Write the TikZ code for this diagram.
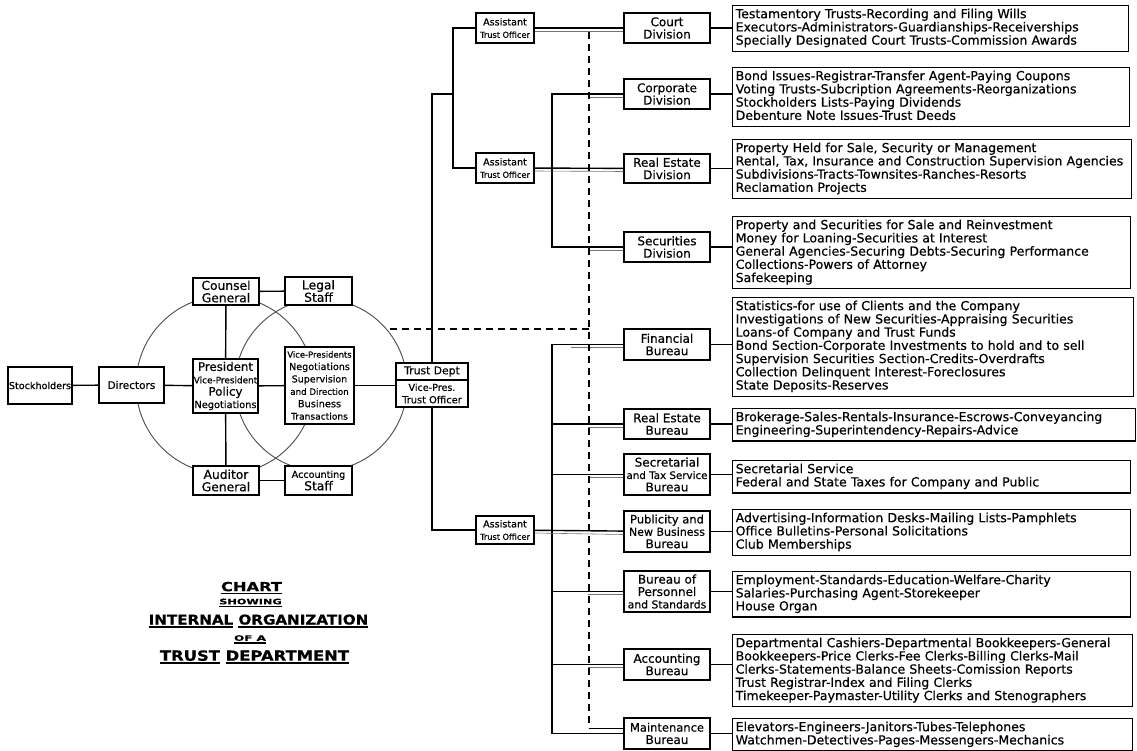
\documentclass[tikz,border=0pt]{standalone}
\usepackage{fontspec}
\setmainfont{DejaVu Sans}[FakeBold=0.5]
\newcommand\fs[1]{\fontsize{#1}{12.4}\selectfont}
\newcommand\ulw[1]{\setbox0=\hbox{#1}\rlap{\copy0}\rule[-3pt]{\wd0}{1.5pt}}
\newcommand\tl[1]{\begin{tabular}{@{}l@{}}#1\end{tabular}}
\begin{document}
\begin{tikzpicture}[x=1pt,y=-1pt,
  box/.style={draw, line width=1.5pt, fill=white, inner sep=1pt, align=center, font=\fs{12}},
  tbox/.style={draw, line width=1.4pt, fill=white, inner sep=3pt, align=left, anchor=north west, font=\fs{12.5}},
  conn/.style={line width=1.4pt},
  ghost/.style={line width=0.6pt, black!55},
  ring/.style={line width=0.9pt, black!70},
  dashln/.style={line width=1.2pt, dash pattern=on 7pt off 5pt},
  ttl/.style={inner sep=0pt, font=\bfseries}]
\useasboundingbox (0,0) rectangle (1137,751);
\fill[white] (0,0) rectangle (1137,751);

% circles
\draw[ring] (225,385) circle[radius=89pt];
\draw[ring] (321,385) circle[radius=86pt];

% left group
\node[box, minimum width=64pt, minimum height=37pt, font=\fs{9.6}] (stock) at (40,385.5) {Stockholders};
\node[box, minimum width=65pt, minimum height=36pt, font=\fs{10.5}] (dir) at (131.5,385) {Directors};
\node[box, minimum width=66pt, minimum height=27pt, font=\fs{12.3}] (counsel) at (226,291.5) {Counsel\\General};
\node[box, minimum width=67pt, minimum height=28pt, font=\fs{12.3}] (legal) at (318.5,291) {Legal\\Staff};
\node[box, minimum width=65pt, minimum height=54pt] (pres) at (225.5,386)
  {\fs{11.8}President\\\fs{8.9}Vice-President\\\fs{11.8}Policy\\\fs{9.8}Negotiations};
\node[box, minimum width=69pt, minimum height=77pt] (vp) at (319.5,385.5)
  {\fs{8.4}Vice-Presidents\\\fs{9.6}Negotiations\\\fs{9.5}Supervision\\\fs{8.7}and Direction\\\fs{9.8}Business\\\fs{9.1}Transactions};
\node[box, minimum width=66pt, minimum height=29pt, font=\fs{12.3}] (auditor) at (226,480.5) {Auditor\\General};
\node[box, minimum width=67pt, minimum height=29pt, font=\fs{12.3}] (accstaff) at (318.5,480.5) {\fs{9.6}Accounting\\Staff};

% trust department
\node[box, minimum width=72pt, minimum height=44pt] (trust) at (432,385) {};
\coordinate (tdiv) at (432,380);
\draw[line width=1.3pt] (trust.west |- tdiv) -- (trust.east |- tdiv);
\node[inner sep=0pt, font=\fs{10.8}] (tdA) at (432,371.5) {Trust Dept};
\node[inner sep=0pt, align=center, font=\fs{9.6}] (tdB) at (432,393.5) {Vice-Pres.\\\fs{9.8}Trust Officer};

% assistant trust officers
\node[box, minimum width=58pt, minimum height=30pt, font=\fs{9.6}] (ato1) at (505,28) {Assistant\\\fs{8.2}Trust Officer};
\node[box, minimum width=58pt, minimum height=30pt, font=\fs{9.6}] (ato2) at (505,168) {Assistant\\\fs{8.2}Trust Officer};
\node[box, minimum width=58pt, minimum height=28pt, font=\fs{9.6}] (ato3) at (505,530) {Assistant\\\fs{8.2}Trust Officer};

% divisions and bureaus
\node[box, minimum width=86pt, minimum height=30pt] (court) at (667,28) {Court\\Division};
\node[box, minimum width=86pt, minimum height=30pt] (corp) at (667,94) {Corporate\\Division};
\node[box, minimum width=86pt, minimum height=29pt] (rediv) at (667,168.5) {Real Estate\\Division};
\node[box, minimum width=86pt, minimum height=30pt] (secdiv) at (667,247) {Securities\\Division};
\node[box, minimum width=86pt, minimum height=31pt] (fin) at (667,344.5) {Financial\\Bureau};
\node[box, minimum width=86pt, minimum height=30pt] (reb) at (667,424) {Real Estate\\Bureau};
\node[box, minimum width=86pt, minimum height=41pt] (secb) at (667,474.5) {Secretarial\\\fs{10.3}and Tax Service\\Bureau};
\node[box, minimum width=86pt, minimum height=41pt] (pub) at (667,531.5) {\fs{11.5}Publicity and\\\fs{11}New Business\\Bureau};
\node[box, minimum width=86pt, minimum height=41pt] (pers) at (667,591.5) {Bureau of\\Personnel\\\fs{10.8}and Standards};
\node[box, minimum width=86pt, minimum height=31pt] (accb) at (667,664.5) {Accounting\\Bureau};
\node[box, minimum width=86pt, minimum height=31pt] (maint) at (667,733.5) {\fs{11.5}Maintenance\\Bureau};

% text boxes
\node[tbox, text width=390pt, minimum height=43pt] (courtT) at (732,5) {\tl{Testamentory Trusts-Recording and Filing Wills\\Executors-Administrators-Guardianships-Receiverships\\Specially Designated Court Trusts-Commission Awards}};
\node[tbox, text width=391pt, minimum height=51pt] (corpT) at (732,67) {\tl{Bond Issues-Registrar-Transfer Agent-Paying Coupons\\Voting Trusts-Subcription Agreements-Reorganizations\\Stockholders Lists-Paying Dividends\\Debenture Note Issues-Trust Deeds}};
\node[tbox, text width=393pt, minimum height=56pt] (redivT) at (732,139) {\tl{Property Held for Sale, Security or Management\\Rental, Tax, Insurance and Construction Supervision Agencies\\Subdivisions-Tracts-Townsites-Ranches-Resorts\\Reclamation Projects}};
\node[tbox, text width=392pt, minimum height=63pt] (secT) at (732,216) {\tl{Property and Securities for Sale and Reinvestment\\Money for Loaning-Securities at Interest\\General Agencies-Securing Debts-Securing Performance\\Collections-Powers of Attorney\\Safekeeping}};
\node[tbox, text width=395pt, minimum height=91pt] (finT) at (732,297) {\tl{Statistics-for use of Clients and the Company\\Investigations of New Securities-Appraising Securities\\Loans-of Company and Trust Funds\\Bond Section-Corporate Investments to hold and to sell\\Supervision Securities Section-Credits-Overdrafts\\Collection Delinquent Interest-Foreclosures\\State Deposits-Reserves}};
\node[tbox, text width=397pt, minimum height=30pt] (rebT) at (732,408) {\tl{Brokerage-Sales-Rentals-Insurance-Escrows-Conveyancing\\Engineering-Superintendency-Repairs-Advice}};
\node[tbox, text width=392pt, minimum height=30pt] (secbT) at (732,460) {\tl{Secretarial Service\\Federal and State Taxes for Company and Public}};
\node[tbox, text width=392pt, minimum height=44pt] (pubT) at (732,509) {\tl{Advertising-Information Desks-Mailing Lists-Pamphlets\\Office Bulletins-Personal Solicitations\\Club Memberships}};
\node[tbox, text width=392pt, minimum height=41pt] (persT) at (732,571) {\tl{Employment-Standards-Education-Welfare-Charity\\Salaries-Purchasing Agent-Storekeeper\\House Organ}};
\node[tbox, text width=394pt, minimum height=70pt] (accT) at (732,634) {\tl{Departmental Cashiers-Departmental Bookkeepers-General\\Bookkeepers-Price Clerks-Fee Clerks-Billing Clerks-Mail\\Clerks-Statements-Balance Sheets-Comission Reports\\Trust Registrar-Index and Filing Clerks\\Timekeeper-Paymaster-Utility Clerks and Stenographers}};
\node[tbox, text width=394pt, minimum height=31pt] (maintT) at (732,718) {\tl{Elevators-Engineers-Janitors-Tubes-Telephones\\Watchmen-Detectives-Pages-Messengers-Mechanics}};

% left connectors
\draw[conn] (stock) -- (dir);
\draw[conn] (dir) -- (pres);
\draw[conn] (pres) -- (vp);
\draw[conn] (counsel) -- (pres);
\draw[conn] (pres) -- (auditor);
\draw[conn] (counsel) -- (legal);
\draw[conn] (auditor) -- (accstaff);
\draw[conn] (vp.east) -- (vp.east -| trust.west);

% trust department tree
\coordinate (j1) at (453,94);
\coordinate (busx) at (552,0);
\draw[conn] (trust.north) |- (j1);
\draw[conn] (ato1.west) -| (j1) |- (ato2.west);
\draw[conn] (trust.south) |- (ato3.west);
\draw[conn] (ato1) -- (court);
\draw[conn] (ato2) -- (rediv);
\draw[conn] (corp.west) -- (corp.west -| busx) |- (secdiv.west);
\draw[conn] (ato3) -- (pub);
\draw[conn] (fin.west) -- (fin.west -| busx) |- (maint.west);
\foreach \n in {reb,secb,pers,accb} {\draw[conn] (\n.west) -- (\n.west -| busx);}

% division to text-box links
\foreach \a/\b in {court/courtT,corp/corpT,rediv/redivT,secdiv/secT,fin/finT,reb/rebT,secb/secbT,pub/pubT,pers/persT,accb/accT,maint/maintT}
  {\draw[conn] (\a.east) -- (\a.east -| \b.west);}

% faint doubled lines
\draw[ghost] ([yshift=-3pt]ato1.east) -- ([yshift=-3pt]court.west);
\draw[ghost] ([yshift=-3pt]ato2.east) -- ([yshift=-3pt]rediv.west);
\draw[ghost] ([yshift=-3pt]ato3.east) -- ([yshift=-3pt]pub.west);
\draw[ghost] ([yshift=-3pt]fin.west) -- ++(-52,0);
\foreach \n in {corp,secdiv,reb,secb,pers,accb} {\draw[ghost] ([yshift=-3pt]\n.west) -- ++(-35,0);}

% dashed lines
\coordinate (dtop) at (589,32);
\coordinate (dbot) at (589,728);
\coordinate (dl) at (390,329);
\draw[dashln] (dtop) -- (dbot);
\draw[dashln] (dl) -- (dl -| dtop);
\draw[line width=0.8pt] (dbot) -- (dbot -| maint.west);

% title
\node[ttl] (t1) at (251.5,588) {\fontsize{12.5}{12.5}\selectfont\scalebox{1.3}[1]{\ulw{CHART}}};
\node[ttl] (t2) at (250.5,603) {\fontsize{7.5}{7.5}\selectfont\scalebox{1.5}[1]{\ulw{SHOWING}}};
\node[ttl] (t3) at (258.5,621) {\fontsize{13.5}{13.5}\selectfont\scalebox{1.12}[1]{\ulw{INTERNAL} \ulw{ORGANIZATION}}};
\node[ttl] (t4) at (250,639.5) {\fontsize{7.5}{7.5}\selectfont\scalebox{1.6}[1]{\ulw{OF A}}};
\node[ttl] (t5) at (254.5,657) {\fontsize{14}{14}\selectfont\scalebox{1.17}[1]{\ulw{TRUST} \ulw{DEPARTMENT}}};
\end{tikzpicture}
\end{document}
